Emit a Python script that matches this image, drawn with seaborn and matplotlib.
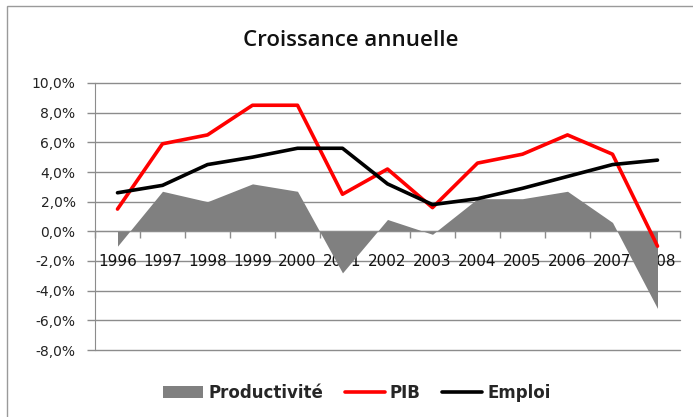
import numpy as np
import pandas as pd
import matplotlib
matplotlib.use("Agg")
import matplotlib.pyplot as plt
import seaborn as sns
from matplotlib.patches import Patch, Rectangle
from matplotlib.lines import Line2D
from matplotlib.ticker import FuncFormatter

years = ["1996", "1997", "1998", "1999", "2000", "2001", "2002",
         "2003", "2004", "2005", "2006", "2007", "2008"]
productivite = [-1.0, 2.7, 2.0, 3.2, 2.7, -2.8, 0.8, -0.2, 2.2, 2.2, 2.7, 0.6, -5.2]
pib = [1.5, 5.9, 6.5, 8.5, 8.5, 2.5, 4.2, 1.6, 4.6, 5.2, 6.5, 5.2, -1.0]
emploi = [2.6, 3.1, 4.5, 5.0, 5.6, 5.6, 3.2, 1.8, 2.2, 2.9, 3.7, 4.5, 4.8]
yticks = [-8, -6, -4, -2, 0, 2, 4, 6, 8, 10]

df = pd.DataFrame({"x": np.arange(len(years)), "year": years,
                   "Productivité": productivite, "PIB": pib, "Emploi": emploi})

sns.set_style("white")
plt.rcParams['font.family'] = ['DejaVu Sans']

fig = plt.figure(figsize=(6.93, 4.17), dpi=100)
ax = fig.add_axes([95/693, 1-350/417, (680-95)/693, (350-83)/417])

grid_c = "#8c8c8c"
for v in yticks:
    ax.axhline(v, color=grid_c, lw=1.0, zorder=0, clip_on=False)

ax.fill_between(df["x"], df["Productivité"], 0, color="#808080", lw=0, zorder=1)
sns.lineplot(data=df, x="x", y="PIB", ax=ax, color="#ff0000", lw=2.6, zorder=3)
sns.lineplot(data=df, x="x", y="Emploi", ax=ax, color="#000000", lw=2.6, zorder=4)

ax.set_xlim(-0.5, len(years) - 0.5)
ax.set_ylim(-8, 10)
ax.set_yticks(yticks)
ax.yaxis.set_major_formatter(FuncFormatter(lambda v, p: f"{v:.1f}%".replace(".", ",")))
ax.set_xticks(df["x"])
ax.set_xticklabels(years)
ax.set_xticks(np.arange(len(years) + 1) - 0.5, minor=True)
ax.set_xlabel("")
ax.set_ylabel("")

for s in ["top", "right"]:
    ax.spines[s].set_visible(False)
ax.spines["left"].set_color(grid_c)
ax.spines["bottom"].set_position(("data", 0))
ax.spines["bottom"].set_color(grid_c)
ax.spines["bottom"].set_zorder(2)

ax.tick_params(axis="y", which="major", length=6, color=grid_c, width=1,
               labelsize=10, pad=8, labelcolor="#222222", left=True)
ax.tick_params(axis="x", which="major", length=0, labelsize=11, pad=16,
               labelcolor="#111111")
ax.tick_params(axis="x", which="minor", length=5, color=grid_c, width=1,
               direction="out", bottom=True)

fig.text(351/693, 1-40/417, "Croissance annuelle", ha="center", va="center",
         fontsize=16, color="#111111", family="Open Sans", weight="semibold")

handles = [Patch(facecolor="#808080", edgecolor="none"),
           Line2D([0], [0], color="#ff0000", lw=2.6),
           Line2D([0], [0], color="#000000", lw=2.6)]
fig.legend(handles, ["Productivité", "PIB", "Emploi"], loc="center",
           bbox_to_anchor=(357/693, 1-393/417), ncol=3, frameon=False,
           prop={"weight": "bold", "size": 12}, handlelength=2.4,
           handletextpad=0.3, columnspacing=1.3)

fig.patches.append(Rectangle((7/693, -0.05), 1.05, 1 - 6/417 + 0.05,
                             transform=fig.transFigure, clip_on=False,
                             fill=False, edgecolor="#9a9a9a", lw=1))

fig.savefig("out.png", dpi=100)
